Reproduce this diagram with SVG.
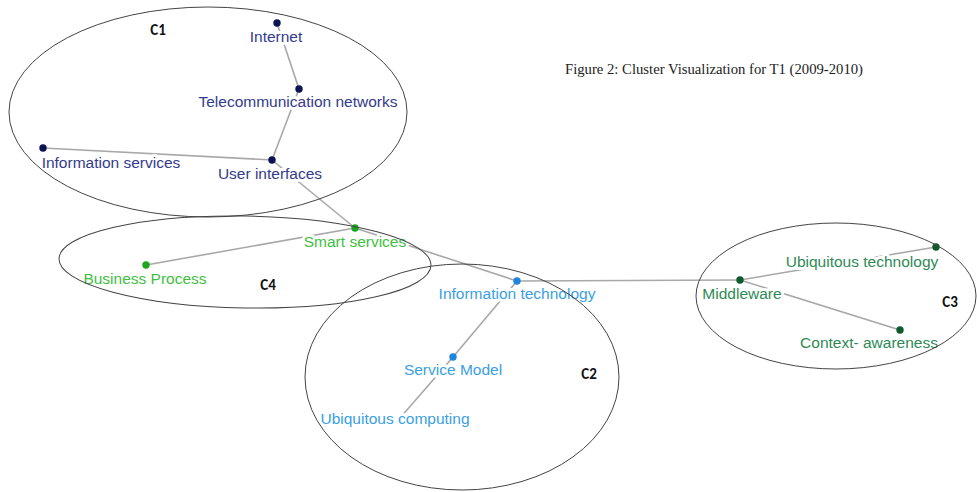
<svg xmlns="http://www.w3.org/2000/svg" width="977" height="492" viewBox="0 0 977 492">
<style>
.lbl{font-family:"Liberation Sans",Arial,sans-serif;font-size:15.5px;text-anchor:middle;stroke:#fff;stroke-width:6;paint-order:stroke;stroke-linejoin:round}
.c1 .lbl{fill:#333b8c}.c1 circle{fill:#0c1252}
.c4 .lbl{fill:#3fbf3f}.c4 circle{fill:#1ea51e}
.c2 .lbl{fill:#3aa0e4}.c2 circle{fill:#1d86dc}
.c3 .lbl{fill:#2e8a55}.c3 circle{fill:#0e5a2d}
.edge{stroke:#a8a8a8;stroke-width:1.6;fill:none}
.cl{fill:none;stroke:#444;stroke-width:1}
.cn{font-family:"Carlito","Liberation Sans",sans-serif;font-size:15px;font-weight:bold;fill:#111;text-anchor:middle}
.cap{font-family:"Liberation Serif","Times New Roman",serif;font-size:14.7px;fill:#222}
</style>
<rect width="977" height="492" fill="#fff"/>
<g id="connectors">
<line class="edge" x1="277" y1="23" x2="299" y2="89"/>
<line class="edge" x1="299" y1="89" x2="272" y2="160"/>
<line class="edge" x1="43" y1="148" x2="272" y2="160"/>
<line class="edge" x1="272" y1="160" x2="355" y2="228"/>
<line class="edge" x1="355" y1="228" x2="146" y2="265"/>
<line class="edge" x1="355" y1="228" x2="517" y2="281"/>
<line class="edge" x1="517" y1="281" x2="453" y2="357"/>
<line class="edge" x1="453" y1="357" x2="400" y2="418"/>
<line class="edge" x1="517" y1="281" x2="740" y2="280"/>
<line class="edge" x1="740" y1="280" x2="936" y2="247"/>
<line class="edge" x1="740" y1="280" x2="900" y2="330"/>
</g>
<g id="node-internet" class="c1"><circle cx="277" cy="23" r="3.7"/><text class="lbl" x="276" y="42">Internet</text></g>
<g id="node-telecom" class="c1"><circle cx="299" cy="89" r="3.7"/><text class="lbl" x="298" y="107">Telecommunication networks</text></g>
<g id="node-infoservices" class="c1"><circle cx="43" cy="148" r="3.7"/><text class="lbl" x="111" y="168">Information services</text></g>
<g id="node-userinterfaces" class="c1"><circle cx="272" cy="160" r="3.7"/><text class="lbl" x="270" y="179">User interfaces</text></g>
<g id="node-smartservices" class="c4"><circle cx="355" cy="228" r="3.7"/><text class="lbl" x="355" y="247">Smart services</text></g>
<g id="node-businessprocess" class="c4"><circle cx="146" cy="265" r="3.7"/><text class="lbl" x="145" y="284">Business Process</text></g>
<g id="node-infotech" class="c2"><circle cx="517" cy="281" r="3.7"/><text class="lbl" x="517" y="299">Information technology</text></g>
<g id="node-servicemodel" class="c2"><circle cx="453" cy="357" r="3.7"/><text class="lbl" x="453" y="375">Service Model</text></g>
<g id="node-ubicomputing" class="c2"><text class="lbl" x="395" y="424">Ubiquitous computing</text></g>
<g id="node-middleware" class="c3"><circle cx="740" cy="280" r="3.7"/><text class="lbl" x="742" y="299">Middleware</text></g>
<g id="node-ubitech" class="c3"><circle cx="936" cy="247" r="3.7"/><text class="lbl" x="862" y="267">Ubiquitous technology</text></g>
<g id="node-context" class="c3"><circle cx="900" cy="330" r="3.7"/><text class="lbl" x="869" y="348">Context- awareness</text></g>
<g id="clusters">
<ellipse class="cl" cx="208" cy="112" rx="199" ry="105"/>
<ellipse class="cl" cx="245" cy="262" rx="186" ry="46" transform="rotate(1 245 262)"/>
<ellipse class="cl" cx="462" cy="377" rx="157" ry="113"/>
<ellipse class="cl" cx="836" cy="296" rx="140" ry="73"/>
<text class="cn" x="158" y="35">C1</text>
<text class="cn" x="268" y="290">C4</text>
<text class="cn" x="589" y="379">C2</text>
<text class="cn" x="950" y="307">C3</text>
</g>
<text class="cap" x="565" y="74">Figure 2: Cluster Visualization for T1 (2009-2010)</text>
</svg>
